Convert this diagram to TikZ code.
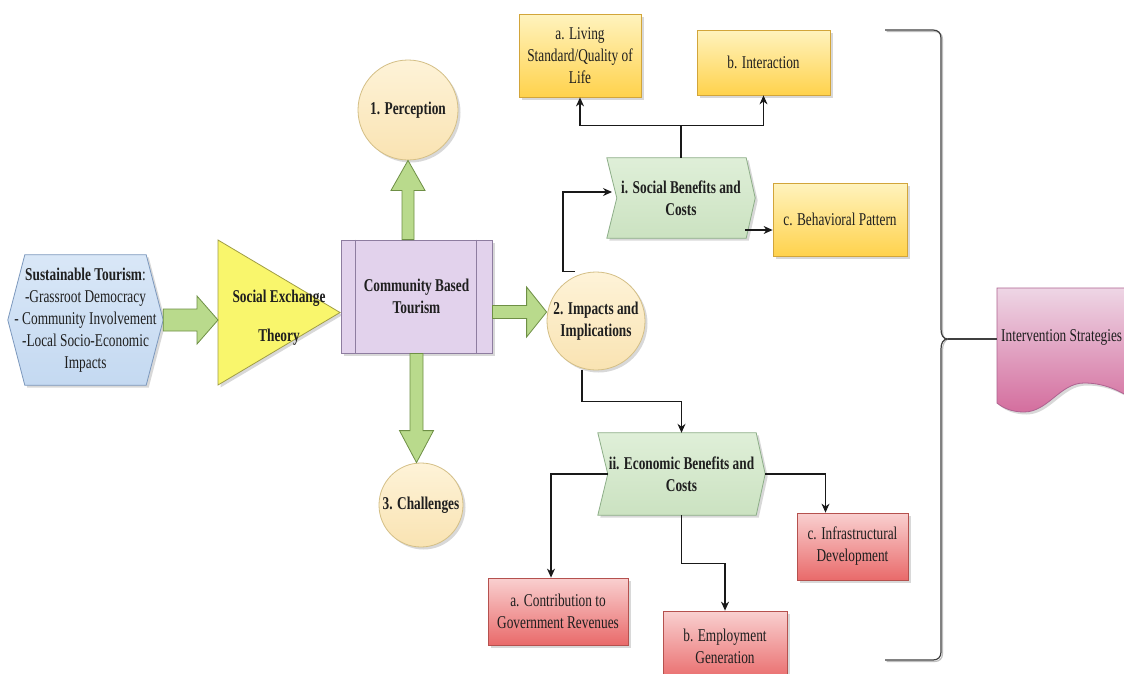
\documentclass[tikz,border=0pt]{standalone}
\usepackage{fontspec}
\setmainfont{Liberation Serif}[FakeStretch=0.74]
\usetikzlibrary{calc,shadows,backgrounds,arrows.meta}
\definecolor{hexfill}{HTML}{D9E7F7}
\definecolor{hexfillb}{HTML}{C4D9F1}
\definecolor{hexline}{HTML}{7C98BD}
\definecolor{arrfill}{HTML}{B9DA8C}
\definecolor{arrline}{HTML}{6E8F45}
\definecolor{trifill}{HTML}{F9F66C}
\definecolor{triline}{HTML}{A09D45}
\definecolor{cbtfill}{HTML}{E2D2EC}
\definecolor{cbtline}{HTML}{8E7DA0}
\definecolor{circtop}{HTML}{FEF3D8}
\definecolor{circbot}{HTML}{F9E3B2}
\definecolor{circline}{HTML}{D4BF86}
\definecolor{grntop}{HTML}{DFEFD8}
\definecolor{grnbot}{HTML}{CBE2C1}
\definecolor{grnline}{HTML}{8DAE88}
\definecolor{yeltop}{HTML}{FFF3BE}
\definecolor{yelbot}{HTML}{FFD24C}
\definecolor{yelline}{HTML}{D2A53A}
\definecolor{redtop}{HTML}{F9D0D0}
\definecolor{redbot}{HTML}{E96A6A}
\definecolor{redline}{HTML}{B5514E}
\definecolor{inttop}{HTML}{EED6E5}
\definecolor{intbot}{HTML}{D46E9E}
\definecolor{intline}{HTML}{AE6290}
\newcommand{\fatarrow}[5]{%
  \coordinate (fah) at ($(#2)!#5!(#1)$);
  \draw[fatarr] ($(#1)!#3!90:(#2)$) -- ($(fah)!#3!-90:(#1)$) -- ($(fah)!#4!-90:(#1)$) -- (#2) -- ($(fah)!#4!90:(#1)$) -- ($(fah)!#3!90:(#1)$) -- ($(#1)!#3!-90:(#2)$) -- cycle;}
\begin{document}
\begin{tikzpicture}[x=1pt,y=-1pt,
  txt/.style={font=\fontsize{18}{22}\selectfont, align=center, inner sep=0pt, text=black!88},
  btxt/.style={txt, font=\fontsize{18}{22}\selectfont\bfseries},
  shd/.style={drop shadow={shadow xshift=2.5pt, shadow yshift=-2.5pt, opacity=0.3}},
  bx/.style={txt, rectangle, draw, line width=0.8pt, shd},
  ybox/.style={bx, draw=yelline, top color=yeltop, bottom color=yelbot},
  rbox/.style={bx, draw=redline, top color=redtop, bottom color=redbot},
  circ/.style={btxt, circle, draw=circline, line width=0.8pt, top color=circtop, bottom color=circbot, shd},
  conn/.style={draw=black!90, line width=1.1pt, -{Stealth[length=9pt,width=8pt]}},
  fatarr/.style={fill=arrfill, draw=arrline, line width=0.8pt},
  shp/.style={line width=0.8pt, shd}
]
\useasboundingbox (0,0) rectangle (1124,673);
\clip (0,0) rectangle (1124,673);

% nodes
\node[txt, minimum width=155pt, minimum height=130pt] (hex) at (85.5,320)
  {\textbf{Sustainable Tourism}:\\-Grassroot Democracy\\- Community Involvement\\-Local Socio-Economic\\Impacts};
\node[btxt] (tri) at (279,317.5) {Social Exchange\\[17pt]Theory};
\node[btxt, rectangle, draw=cbtline, fill=cbtfill, line width=0.8pt, shd, minimum width=151pt, minimum height=113pt] (cbt) at (416.5,296.5) {Community Based\\Tourism};
\node[circ, minimum size=100pt] (c1) at (408,110) {1. Perception};
\node[circ, minimum size=98pt] (c2) at (596,321) {2. Impacts and\\Implications};
\node[circ, minimum size=84pt] (c3) at (421,505) {3. Challenges};
\node[btxt, minimum width=148pt, minimum height=80pt] (soc) at (681,198) {i. Social Benefits and\\Costs};
\node[btxt, minimum width=167pt, minimum height=82pt] (eco) at (681.5,474) {ii. Economic Benefits and\\Costs};
\node[ybox, minimum width=122pt, minimum height=83pt] (ya) at (580,55.5) {a. Living\\Standard/Quality of\\Life};
\node[ybox, minimum width=133pt, minimum height=65pt] (yb) at (763.5,62.5) {b. Interaction};
\node[ybox, minimum width=134pt, minimum height=73pt] (yc) at (840,219.5) {c. Behavioral Pattern};
\node[rbox, minimum width=140pt, minimum height=67pt] (ra) at (558,611.5) {a. Contribution to\\Government Revenues};
\node[rbox, minimum width=124pt, minimum height=70pt] (rb) at (725,646) {b. Employment\\Generation};
\node[rbox, minimum width=111pt, minimum height=67pt] (rc) at (852.5,546.5) {c. Infrastructural\\Development};
\node[txt, anchor=west, inner sep=4pt] (int) at (997,337) {Intervention Strategies};

% background shapes
\begin{scope}[on background layer]
  \fill[white] (0,0) rectangle (1124,673);
  \path[shp, draw=hexline, top color=hexfill, bottom color=hexfillb]
    (hex.west) -- ([xshift=17pt]hex.north west) -- ([xshift=-17pt]hex.north east) -- (hex.east)
    -- ([xshift=-17pt]hex.south east) -- ([xshift=17pt]hex.south west) -- cycle;
  \path[shp, draw=triline, fill=trifill]
    ($(tri.center)+(-61,-77.5)$) -- ($(tri.center)+(61,-5)$) -- ($(tri.center)+(-61,67.5)$) -- cycle;
  \path[shp, draw=grnline, top color=grntop, bottom color=grnbot]
    (soc.north west) -- ([xshift=-9pt]soc.north east) -- (soc.east) -- ([xshift=-9pt]soc.south east)
    -- (soc.south west) -- ([xshift=10pt]soc.west) -- cycle;
  \path[shp, draw=grnline, top color=grntop, bottom color=grnbot]
    (eco.north west) -- ([xshift=-9pt]eco.north east) -- (eco.east) -- ([xshift=-9pt]eco.south east)
    -- (eco.south west) -- ([xshift=10pt]eco.west) -- cycle;
  \path[shp, draw=intline, top color=inttop, bottom color=intbot]
    (997,288) -- (1140,288) -- (1140,404) .. controls (1120,390) and (1104,383) .. (1084,383)
    .. controls (1060,383) and (1048,412) .. (1024,412) .. controls (1012,412) and (1003,408) .. (997,403) -- cycle;
\end{scope}

% process lines in community box
\draw[draw=cbtline, line width=0.8pt] ([xshift=15pt]cbt.north west) -- ([xshift=15pt]cbt.south west);
\draw[draw=cbtline, line width=0.8pt] ([xshift=-16pt]cbt.north east) -- ([xshift=-16pt]cbt.south east);

% fat arrows
\coordinate (triL) at ($(tri.center)+(-61,0)$);
\coordinate (a1e) at (hex.east -| triL);
\fatarrow{hex.east}{a1e}{11pt}{24pt}{21pt}
\coordinate (a2s) at ($(cbt.east)+(0,15.5)$);
\coordinate (a2e) at (a2s -| c2.west);
\fatarrow{a2s}{a2e}{6.5pt}{25pt}{20pt}
\coordinate (a3s) at (c1.south |- cbt.north);
\fatarrow{a3s}{c1.south}{6pt}{17pt}{30pt}
\coordinate (a4e) at (cbt.south |- c3.north);
\fatarrow{cbt.south}{a4e}{6.5pt}{17pt}{32pt}

% connectors
\draw[conn] ($(c2.north)+(-21,0)$) -- ++(-12,0) |- ($(soc.center)+(-69,-6)$);
\draw[conn] (soc.north) -- ++(0,-32) -| (ya.south);
\draw[conn] (soc.north) ++(0,-32) -| (yb.south);
\draw[conn] ($(soc.center)+(64,32)$) -- ($(yc.west)+(0,10.5)$);
\draw[conn] ($(c2.south)+(-14,0)$) -- ++(0,31) -| (eco.north);
\draw[conn] ($(eco.center)+(-74,0)$) -| ($(ra.north)+(-7,0)$);
\draw[conn] (eco.south) -- ++(0,48) -| (rb.north);
\draw[conn] (eco.east) -| ($(rc.north)+(-27,0)$);

% brace
\coordinate (tip) at (948,339);
\foreach \sh/\col in {1.5/black!25, 0/black!75}{
\draw[line width=1.2pt, draw=\col, xshift=\sh pt, yshift=-\sh pt]
  (885,30) -- (933,30) .. controls (938,30) and (941,33) .. (941,38) -- (941,329)
  .. controls (941,335) and (943,339) .. (tip)
  .. controls (943,339) and (941,343) .. (941,349) -- (941,652)
  .. controls (941,657) and (938,660) .. (933,660) -- (885,660);
}
\draw[line width=1.2pt, draw=black!75] (tip) -- (tip -| int.west);
\end{tikzpicture}
\end{document}
